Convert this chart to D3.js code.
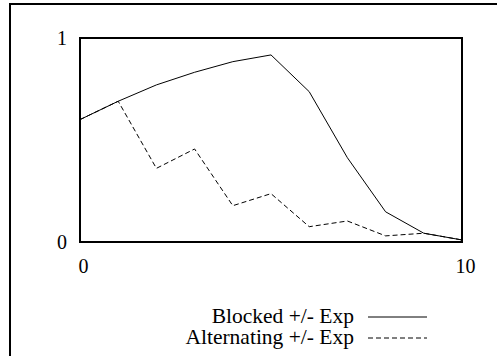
<!DOCTYPE html>
<html>
<head>
<meta charset="utf-8">
<script src="https://cdn.jsdelivr.net/npm/d3@7"></script>
<style>
  body { margin: 0; background: #fff; }
  text { font-family: "Liberation Serif", "Times New Roman", serif; fill: #000; }
</style>
</head>
<body>
<svg id="chart"></svg>
<script>
const steps = [0, 1, 2, 3, 4, 5, 6, 7, 8, 9, 10];
const blocked = [0.60, 0.69, 0.77, 0.832, 0.884, 0.917, 0.737, 0.413, 0.148, 0.043, 0.01];
const alternating = [0.60, 0.69, 0.361, 0.456, 0.178, 0.237, 0.075, 0.103, 0.03, 0.043, 0.01];
const seriesNames = ["Blocked +/- Exp", "Alternating +/- Exp"];
const xTicks = [0, 10];
const yTicks = [0, 1];

const W = 497, H = 356;
const plot = {left: 80, right: 462, top: 38, bottom: 242};

const svg = d3.select("#chart").attr("width", W).attr("height", H);

// outer frame (top and left edges only visible)
svg.append("path")
  .attr("d", "M10,356V4H497")
  .style("fill", "none")
  .style("stroke", "#000")
  .style("stroke-width", "2px");

const x = d3.scaleLinear().domain([0, 10]).range([plot.left, plot.right]);
const y = d3.scaleLinear().domain([0, 1]).range([plot.bottom, plot.top]);

svg.append("rect")
  .attr("x", plot.left).attr("y", plot.top)
  .attr("width", plot.right - plot.left).attr("height", plot.bottom - plot.top)
  .style("fill", "none").style("stroke", "#000").style("stroke-width", "2px");

const line = d3.line()
  .x(function (d, i) { return x(steps[i]); })
  .y(function (d) { return y(d); });

const series = [
  {name: seriesNames[0], values: blocked, dash: null},
  {name: seriesNames[1], values: alternating, dash: "5,3"}
];

series.forEach(function (s) {
  svg.append("path")
    .datum(s.values)
    .style("fill", "none")
    .style("stroke", "#000")
    .style("stroke-width", "1px")
    .style("stroke-dasharray", s.dash)
    .attr("d", line);
});

// axes without tick marks
const yAxis = d3.axisLeft(y).tickValues(yTicks).tickSize(0).tickPadding(13).tickFormat(d3.format("d"));
const xAxis = d3.axisBottom(x).tickValues(xTicks).tickSize(0).tickPadding(17).tickFormat(d3.format("d"));

const gy = svg.append("g").attr("transform", "translate(" + plot.left + ",0)").call(yAxis);
const gx = svg.append("g").attr("transform", "translate(0," + plot.bottom + ")").call(xAxis);
[gx, gy].forEach(function (g) {
  g.select(".domain").remove();
  g.selectAll("text").style("font-size", "20px").style("font-family", "Liberation Serif, serif");
});
gx.selectAll("text").attr("dx", 3);

// legend
const legend = svg.append("g");
series.forEach(function (s, i) {
  const ly = 317 + i * 21;
  legend.append("text")
    .attr("x", 354).attr("y", ly + 6)
    .attr("text-anchor", "end")
    .style("font-size", "21.5px")
    .text(s.name);
  legend.append("line")
    .attr("x1", 368).attr("x2", 427)
    .attr("y1", ly).attr("y2", ly)
    .style("stroke", "#000")
    .style("stroke-width", "1px")
    .style("stroke-dasharray", s.dash);
});
</script>
</body>
</html>
